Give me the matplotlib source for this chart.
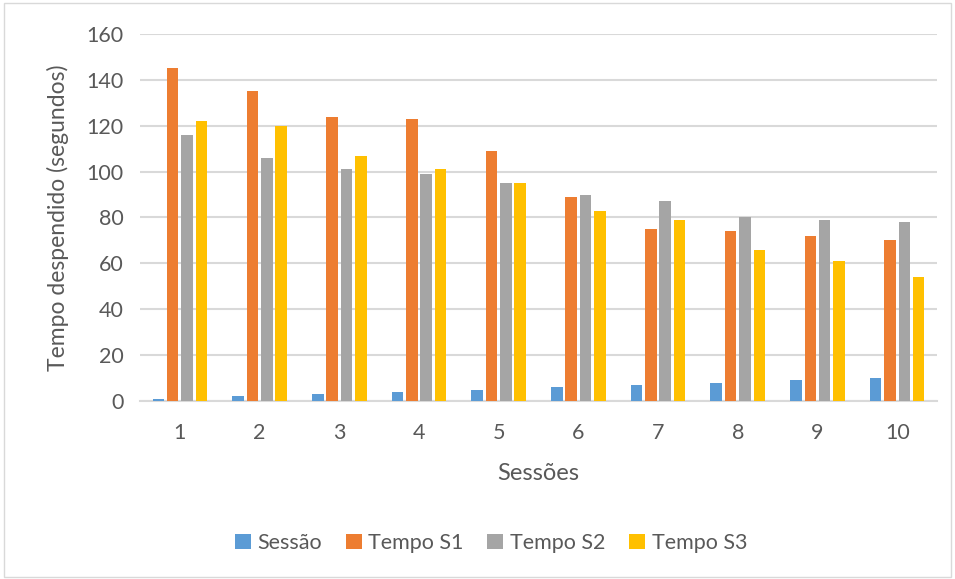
import numpy as np
import matplotlib.pyplot as plt

sessoes = [1, 2, 3, 4, 5, 6, 7, 8, 9, 10]
sessao = [1, 2, 3, 4, 5, 6, 7, 8, 9, 10]
tempo_s1 = [145, 135, 124, 123, 109, 89, 75, 74, 72, 70]
tempo_s2 = [116, 106, 101, 99, 95, 90, 87, 80, 79, 78]
tempo_s3 = [122, 120, 107, 101, 95, 83, 79, 66, 61, 54]

series = [
    ("Sessão", sessao, "#5b9bd5"),
    ("Tempo S1", tempo_s1, "#ed7d31"),
    ("Tempo S2", tempo_s2, "#a5a5a5"),
    ("Tempo S3", tempo_s3, "#ffc000"),
]

plt.rcParams['font.family'] = ['Lato', 'DejaVu Sans']

fig = plt.figure(figsize=(9.55, 5.79), dpi=100)
ax = fig.add_axes([0.1466, 0.3074, 0.8346, 0.634])

x = np.arange(1, len(sessoes) + 1)
step = 0.18
width = 0.145
for i, (nome, valores, cor) in enumerate(series):
    ax.bar(x + (i - 1.5) * step, valores, width, color=cor, label=nome, zorder=3)

ax.set_xlim(0.5, 10.5)
ax.set_ylim(0, 160)
ax.set_yticks(range(0, 161, 20))
ax.set_xticks(x)
ax.set_xticklabels([str(s) for s in sessoes])
ax.tick_params(length=0, labelsize=15.5, colors='#595959')
ax.tick_params(axis='x', pad=16)
ax.tick_params(axis='y', pad=12)
ax.grid(axis='y', color='#d9d9d9', linewidth=1.5, zorder=0)
for lado in ['top', 'right', 'left']:
    ax.spines[lado].set_visible(False)
ax.spines['bottom'].set_color('#d9d9d9')
ax.spines['bottom'].set_linewidth(1.5)

ax.set_xlabel('Sessões', fontsize=17, color='#595959', labelpad=14)
ax.set_ylabel('Tempo despendido (segundos)', fontsize=16.5, color='#595959', labelpad=12)

fig.legend(*ax.get_legend_handles_labels(), loc='center', bbox_to_anchor=(0.514, 0.062),
           ncol=4, frameon=False, fontsize=15.5, labelcolor='#595959',
           handlelength=0.75, handleheight=0.75, handletextpad=0.3, columnspacing=1.1)

fig.patches.append(plt.Rectangle((0.004, 0.004), 0.992, 0.99, transform=fig.transFigure,
                                 fill=False, edgecolor='#d9d9d9', linewidth=1))

fig.savefig('out.png', dpi=100)
